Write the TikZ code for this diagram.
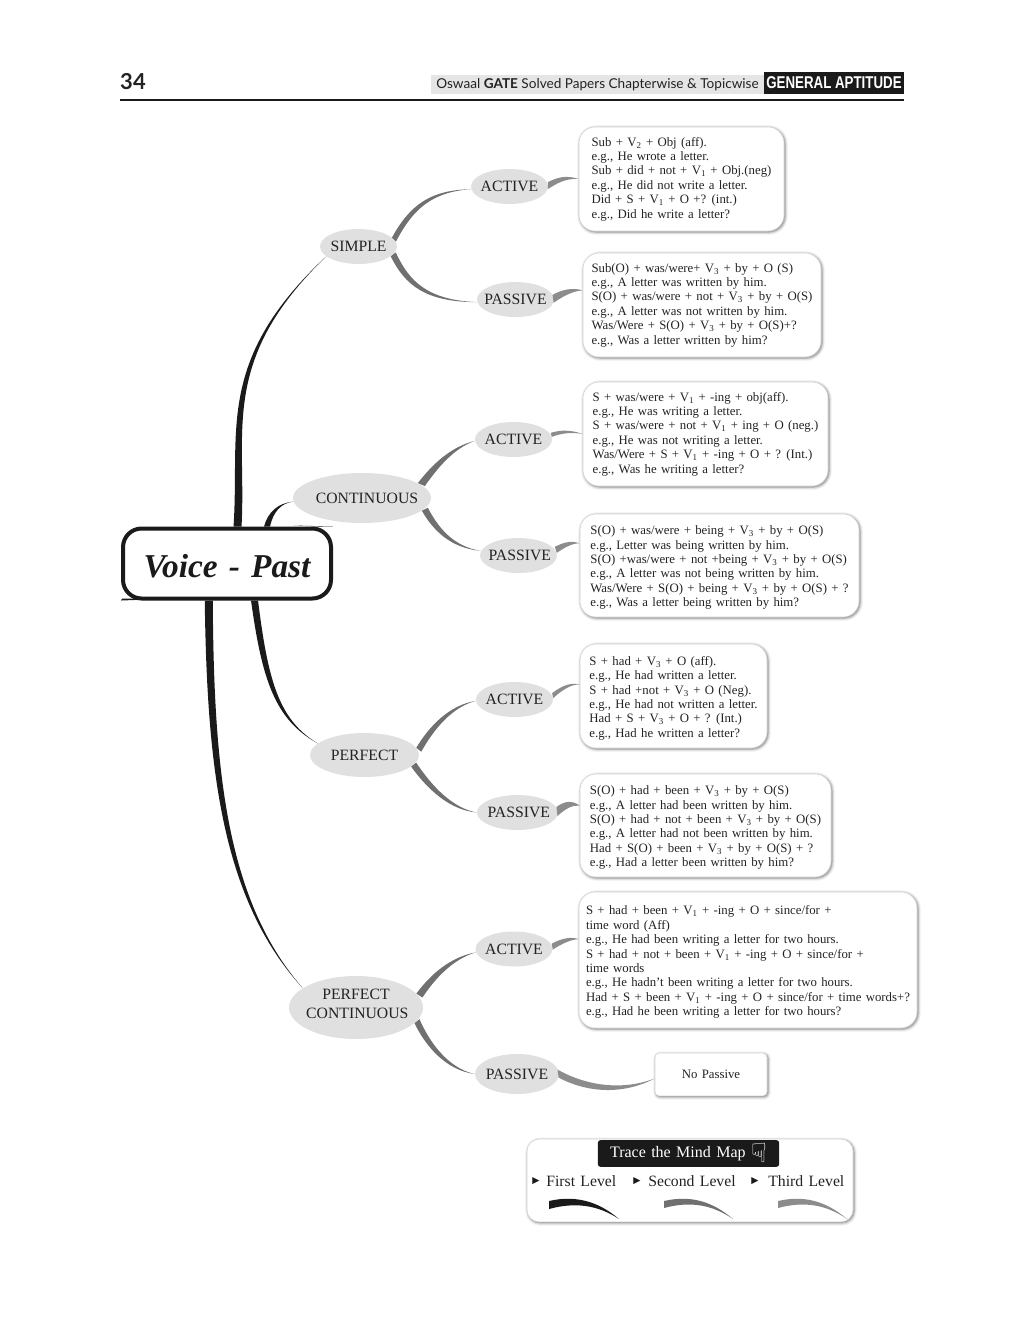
\documentclass[tikz,border=0pt]{standalone}
\usepackage{fontspec}
\setmainfont[WordSpace=1.35]{Liberation Serif}
\newfontfamily\headfont{Lato}
\newfontfamily\narrowfont[FakeStretch=0.78]{Liberation Sans}
\newfontfamily\symfont{DejaVu Sans}
\usetikzlibrary{shapes.geometric, calc, shadows.blur}
\definecolor{levelone}{RGB}{26, 26, 26}
\definecolor{leveltwo}{RGB}{112, 112, 112}
\definecolor{levelthree}{RGB}{140, 140, 140}
\definecolor{bubblegrey}{RGB}{224, 224, 224}
\definecolor{inkgrey}{RGB}{35, 35, 35}
\newcommand{\vsub}[1]{V\textsubscript{#1}}
\newcommand{\lift}{\rule{0pt}{10pt}}
\newcommand{\bubbletext}[2][0pt]{\makebox[0pt]{\hspace*{#1}#2}}
\newcommand{\taper}[6]{\fill[#1] (#2) .. controls (#4) and (#5) .. (#3) .. controls ($(#5)+0.5*(#6)$) and ($(#4)+0.85*(#6)$) .. ($(#2)+(#6)$) -- cycle;}
\tikzset{
    bubble/.style={draw=none, ellipse, fill=bubblegrey, inner sep=0pt, text=inkgrey, align=center, font=\fontsize{11.8}{13.5}\selectfont},
    voicelabel/.style={bubble, minimum width=57.75pt, minimum height=26.25pt},
    notebox/.style={rectangle, rounded corners=12pt, fill=white, draw=gray!35, line width=0.4pt, text=inkgrey, align=left, inner xsep=0pt, inner ysep=0pt,
        font=\fontsize{9.6}{10.8}\selectfont, blur shadow={shadow xshift=0.8pt, shadow yshift=-0.8pt, shadow blur radius=2.2pt, shadow opacity=55}},
    levellabel/.style={text=inkgrey, anchor=west, inner sep=0pt, font=\fontsize{11.8}{13}\selectfont},
    levelmark/.style={anchor=center, inner sep=0pt, text=levelone, font=\symfont\fontsize{7}{8}\selectfont}
}

\begin{document}
\begin{tikzpicture}[x=0.75pt, y=-0.75pt]
    \useasboundingbox (0,0) rectangle (1024,1325);

    \node[inner sep=0pt, font=\headfont\bfseries\fontsize{16.5}{18}\selectfont, text=inkgrey] (pagenum) at (133,82) {34};
    \node[rectangle, fill=gray!20, minimum width=249.75pt, minimum height=14.25pt, inner sep=0pt] (headband) at (597.5,84.5) {};
    \node[inner sep=0pt, font=\headfont\fontsize{10.2}{12}\selectfont, text=inkgrey] (headtext) at (597.5,85) {Oswaal \textbf{GATE} Solved Papers Chapterwise \& Topicwise};
    \node[rectangle, fill=levelone, minimum width=105pt, minimum height=16.5pt, inner sep=0pt, text=white, font=\narrowfont\bfseries\fontsize{12.8}{14}\selectfont] (headbox) at (834,83) {GENERAL APTITUDE};
    \coordinate (ruleleft) at (120,100);
    \coordinate (ruleright) at (904,100);
    \draw[line width=1.1pt, levelone] (ruleleft) -- (ruleright);

    \node[draw=levelone, rectangle, rounded corners=14pt, line width=3pt, fill=white, minimum width=156pt, minimum height=52.5pt, inner sep=0pt, text=levelone, font=\bfseries\itshape\fontsize{25}{28}\selectfont] (root) at (227,563.5) {\rule{0pt}{21pt}Voice - Past};
    \coordinate (overtop) at (318,526.5);
    \coordinate (overbottom) at (122,598.5);
    \fill[levelone] (root.north east) ++(-40,-1) -- (overtop) -- (root.north east) ++(-40,1.5) -- cycle;
    \fill[levelone] (root.south west) ++(40,-1.5) -- (overbottom) -- (root.south west) ++(40,1) -- cycle;

    \node[voicelabel] (simple) at (358.5,246.5) {\bubbletext{SIMPLE}};
    \node[bubble, minimum width=103.5pt, minimum height=37.5pt] (continuous) at (362,498) {\bubbletext[7.5pt]{CONTINUOUS}};
    \node[bubble, minimum width=81.75pt, minimum height=33pt] (perfect) at (364.5,755) {\bubbletext{PERFECT}};
    \node[bubble, minimum width=100.5pt, minimum height=47.25pt] (perfectcont) at (356,1007.5) {\bubbletext{PERFECT}\\[0.75pt]\bubbletext[2pt]{CONTINUOUS}\rule[-6pt]{0pt}{6pt}};

    \node[voicelabel] (active1) at (509.5,186.5) {\bubbletext{ACTIVE}};
    \node[voicelabel] (passive1) at (515.5,299.5) {\bubbletext{PASSIVE}};
    \node[voicelabel] (active2) at (513.5,439.5) {\bubbletext{ACTIVE}};
    \node[voicelabel] (passive2) at (518.5,555.5) {\bubbletext[2pt]{PASSIVE}};
    \node[voicelabel] (active3) at (514.5,699.5) {\bubbletext{ACTIVE}};
    \node[voicelabel, minimum width=60.75pt] (passive3) at (517.5,812.5) {\bubbletext[2pt]{PASSIVE}};
    \node[voicelabel] (active4) at (514,949) {\bubbletext{ACTIVE}};
    \node[voicelabel, minimum width=63pt, minimum height=30pt] (passive4) at (517,1074) {\bubbletext{PASSIVE}};

    \node[notebox, minimum width=153.75pt, minimum height=78pt] (box1) at (681.5,179) {Sub + \vsub{2} + Obj (aff).\\e.g., He wrote a letter.\\Sub + did + not + \vsub{1} + Obj.(neg)\\e.g., He did not write a letter.\\Did + S + \vsub{1} + O +? (int.)\\e.g., Did he write a letter?};
    \node[notebox, minimum width=178.5pt, minimum height=78pt] (box2) at (702,305) {Sub(O) + was/were+ \vsub{3} + by + O (S)\\e.g., A letter was written by him.\\S(O) + was/were + not + \vsub{3} + by + O(S)\\e.g., A letter was not written by him.\\Was/Were + S(O) + \vsub{3} + by + O(S)+?\\e.g., Was a letter written by him?};
    \node[notebox, minimum width=183.75pt, minimum height=78pt] (box3) at (705.5,434) {S + was/were + \vsub{1} + -ing + obj(aff).\\e.g., He was writing a letter.\\S + was/were + not + \vsub{1} + ing + O (neg.)\\e.g., He was not writing a letter.\\Was/Were + S + \vsub{1} + -ing + O + ? (Int.)\\e.g., Was he writing a letter?};
    \node[notebox, minimum width=209.25pt, minimum height=77.25pt] (box4) at (719.5,565.5) {\lift S(O) + was/were + being + \vsub{3} + by + O(S)\\e.g., Letter was being written by him.\\S(O) +was/were + not +being + \vsub{3} + by + O(S)\\e.g., A letter was not being written by him.\\Was/Were + S(O) + being + \vsub{3} + by + O(S) + ?\\e.g., Was a letter being written by him?};
    \node[notebox, minimum width=140.25pt, minimum height=78pt] (box5) at (673.5,696) {\lift S + had + \vsub{3} + O (aff).\\e.g., He had written a letter.\\S + had +not + \vsub{3} + O (Neg).\\e.g., He had not written a letter.\\Had + S + \vsub{3} + O + ? (Int.)\\e.g., Had he written a letter?};
    \node[notebox, minimum width=188.25pt, minimum height=77.25pt] (box6) at (705.5,825.5) {\lift S(O) + had + been + \vsub{3} + by + O(S)\\e.g., A letter had been written by him.\\S(O) + had + not + been + \vsub{3} + by + O(S)\\e.g., A letter had not been written by him.\\Had + S(O) + been + \vsub{3} + by + O(S) + ?\\e.g., Had a letter been written by him?};
    \node[notebox, minimum width=253.5pt, minimum height=102pt] (box7) at (748,960) {\lift S + had + been + \vsub{1} + -ing + O + since/for +\\time word (Aff)\\e.g., He had been writing a letter for two hours.\\S + had + not + been + \vsub{1} + -ing + O + since/for +\\time words\\e.g., He hadn't been writing a letter for two hours.\\Had + S + been + \vsub{1} + -ing + O + since/for + time words+?\\e.g., Had he been writing a letter for two hours?};
    \node[notebox, rounded corners=3pt, minimum width=84pt, minimum height=32pt, align=center, font=\fontsize{9.6}{11}\selectfont] (box8) at (711,1074.5) {No Passive};

    \taper{levelone}{root.80}{simple.197}{240,430}{215,360}{8,0}
    \taper{levelone}{root.45}{continuous.183}{268,512}{278,503}{6,0}
    \taper{levelone}{root.-57}{perfect.166}{262,680}{275,720}{7,0}
    \taper{levelone}{root.-121}{perfectcont.160}{207,770}{222,900}{8,0}

    \taper{leveltwo}{simple.15}{active1.184}{410,205}{430,190}{4,4}
    \taper{leveltwo}{simple.-17}{passive1.184}{405,285}{425,302}{5,-4}
    \taper{leveltwo}{continuous.15}{active2.182}{432,465}{450,447}{7,3}
    \taper{leveltwo}{continuous.-12}{passive2.173}{433,530}{450,548}{6,-3}
    \taper{leveltwo}{perfect.8}{active3.182}{430,725}{450,705}{5,4}
    \taper{leveltwo}{perfect.-14}{passive3.180}{428,790}{450,810}{5,-4}
    \taper{leveltwo}{perfectcont.13}{active4.185}{430,975}{450,957}{6,4}
    \taper{leveltwo}{perfectcont.-15}{passive4.180}{425,1045}{445,1070}{5,-4}

    \taper{levelthree}{active1.-4}{box1.west}{556,184}{565,178}{0,-7}
    \taper{levelthree}{passive1.-5}{box2.173}{562,297}{572,291}{-1,-8}
    \taper{levelthree}{active2.4}{box3.west}{562,433}{572,432}{-1,-4}
    \taper{levelthree}{passive2.4}{box4.171}{564,548}{572,543}{-2,-6}
    \taper{levelthree}{active3.2}{box5.173}{560,692}{570,684}{-1,-5}
    \taper{levelthree}{passive3.-5}{box6.171}{566,808}{573,805}{-1,-9}
    \taper{levelthree}{active4.-1}{box7.173}{561,944}{572,939}{-1,-6}
    \taper{levelthree}{passive4.-5}{box8.184}{590,1094}{625,1094}{-1,-8}

    \node[notebox, rounded corners=9pt, minimum width=244.5pt, minimum height=62pt] (legend) at (690,1180.5) {};
    \node[rectangle, rounded corners=2pt, fill=levelone, minimum width=136pt, minimum height=20pt, inner sep=0pt, text=white, font=\fontsize{12}{14}\selectfont] (legendtitle) at (688.5,1153.5) {\hspace*{-16pt}Trace the Mind Map};
    \node[inner sep=0pt, text=white, font=\symfont\fontsize{20}{22}\selectfont] (legendhand) at (759,1153) {☟};

    \node[levelmark] (mark1) at (536,1181) {▶};
    \node[levellabel] (first) at (546,1181) {First Level};
    \node[levelmark] (mark2) at (637,1181) {▶};
    \node[levellabel] (second) at (648,1181) {Second Level};
    \node[levelmark] (mark3) at (755,1181) {▶};
    \node[levellabel] (third) at (768,1181) {Third Level};

    \coordinate (swoosha) at (549,1201);
    \coordinate (swooshb) at (619,1219);
    \coordinate (swooshc) at (664,1201);
    \coordinate (swooshd) at (733,1219);
    \coordinate (swooshe) at (778,1201);
    \coordinate (swooshf) at (847,1219);
    \taper{levelone}{swoosha}{swooshb}{575,1195}{598,1201}{0,8}
    \taper{leveltwo}{swooshc}{swooshd}{690,1195}{712,1201}{0,7}
    \taper{levelthree}{swooshe}{swooshf}{804,1195}{826,1201}{0,7}
\end{tikzpicture}
\end{document}
